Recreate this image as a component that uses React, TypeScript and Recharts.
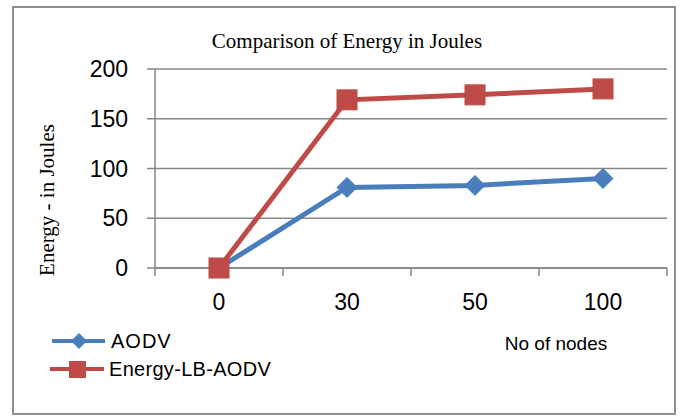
import React from 'react';
import { LineChart, Line, XAxis, YAxis, CartesianGrid } from 'recharts';

const categories = ['0', '30', '50', '100'];
const aodv = [0, 81, 83, 90];
const energyLb = [0, 169, 174, 180];
const yTicks = [0, 50, 100, 150, 200];

const data = categories.map((c, i) => ({ nodes: c, aodv: aodv[i], energyLb: energyLb[i] }));

const GRAY = '#878787';
const BLUE = '#4A7EBB';
const RED = '#BE4B48';
const SANS = '"Liberation Sans", Arial, sans-serif';
const SERIF = '"Liberation Serif", "Times New Roman", serif';

const Diamond = (props: any) => {
  const { cx, cy, index } = props;
  if (cx == null || cy == null) return <g key={`d${index}`} />;
  const r = 10;
  return (
    <polygon
      key={`d${index}`}
      points={`${cx},${cy - r} ${cx + r},${cy} ${cx},${cy + r} ${cx - r},${cy}`}
      fill={BLUE}
      stroke={BLUE}
      strokeWidth={1}
    />
  );
};

const Square = (props: any) => {
  const { cx, cy, index } = props;
  if (cx == null || cy == null) return <g key={`s${index}`} />;
  const h = 10;
  return <rect key={`s${index}`} x={cx - h} y={cy - h} width={2 * h} height={2 * h} fill={RED} stroke={RED} strokeWidth={1} />;
};

const XTick = (props: any) => {
  const { x, y, payload, index, visibleTicksCount } = props;
  const off = payload && payload.offset ? payload.offset : 64;
  const last = index === (visibleTicksCount ?? categories.length) - 1;
  return (
    <g>
      <line x1={x - off} y1={y} x2={x - off} y2={y + 8} stroke={GRAY} strokeWidth={1.5} />
      {last && <line x1={x + off} y1={y} x2={x + off} y2={y + 8} stroke={GRAY} strokeWidth={1.5} />}
      <text x={x} y={y + 42} textAnchor="middle" fontSize={23} fontFamily={SANS} fill="#000">
        {payload.value}
      </text>
    </g>
  );
};

export default function App() {
  return (
    <div style={{ position: 'absolute', left: 0, top: 0, width: 683, height: 419, background: '#fff', overflow: 'hidden' }}>
      <div
        style={{
          position: 'absolute',
          left: 12,
          top: 6,
          width: 664,
          height: 409,
          border: '2px solid #8f8f8f',
          boxSizing: 'border-box',
        }}
      />
      <div style={{ position: 'absolute', left: 0, top: 0 }}>
        <LineChart width={683} height={419} data={data} margin={{ top: 69, right: 16, left: 0, bottom: 111 }}>
          <CartesianGrid vertical={false} stroke={GRAY} strokeWidth={1.5} />
          <XAxis
            dataKey="nodes"
            scale="band"
            height={40}
            tickLine={false}
            tickSize={0}
            tickMargin={0}
            axisLine={{ stroke: GRAY, strokeWidth: 1.5 }}
            tick={<XTick />}
            interval={0}
          />
          <YAxis
            width={155}
            domain={[0, 200]}
            ticks={yTicks}
            interval={0}
            tickSize={8}
            tickMargin={19}
            axisLine={{ stroke: GRAY, strokeWidth: 1.5 }}
            tickLine={{ stroke: GRAY, strokeWidth: 1.5 }}
            tick={{ fontSize: 23, fontFamily: SANS, fill: '#000' }}
          />
          <Line
            dataKey="aodv"
            stroke={BLUE}
            strokeWidth={5}
            dot={Diamond}
            activeDot={false}
            isAnimationActive={false}
          />
          <Line
            dataKey="energyLb"
            stroke={RED}
            strokeWidth={5}
            dot={Square}
            activeDot={false}
            isAnimationActive={false}
          />
        </LineChart>
      </div>
      <svg width={683} height={419} style={{ position: 'absolute', left: 0, top: 0, pointerEvents: 'none' }}>
        <text x={347} y={48} textAnchor="middle" fontSize={21} fontFamily={SERIF} fill="#000">
          Comparison of Energy in Joules
        </text>
        <text
          x={0}
          y={0}
          transform="translate(54,200) rotate(-90)"
          textAnchor="middle"
          fontSize={21}
          fontFamily={SERIF}
          fill="#000"
        >
          Energy - in Joules
        </text>
        <text x={556} y={350} textAnchor="middle" fontSize={19} fontFamily={SANS} fill="#000">
          No of nodes
        </text>
        <g>
          <line x1={52} y1={341} x2={105} y2={341} stroke={BLUE} strokeWidth={4} />
          <polygon points="79,333 87,341 79,349 71,341" fill={BLUE} />
          <text x={111} y={348} fontSize={20} fontFamily={SANS} fill="#000" letterSpacing={1}>
            AODV
          </text>
          <line x1={50} y1={369} x2={104} y2={369} stroke={RED} strokeWidth={4} />
          <rect x={69} y={361} width={17} height={17} fill={RED} />
          <text x={109} y={376} fontSize={20} fontFamily={SANS} fill="#000" letterSpacing={0.3}>
            Energy-LB-AODV
          </text>
        </g>
      </svg>
    </div>
  );
}
